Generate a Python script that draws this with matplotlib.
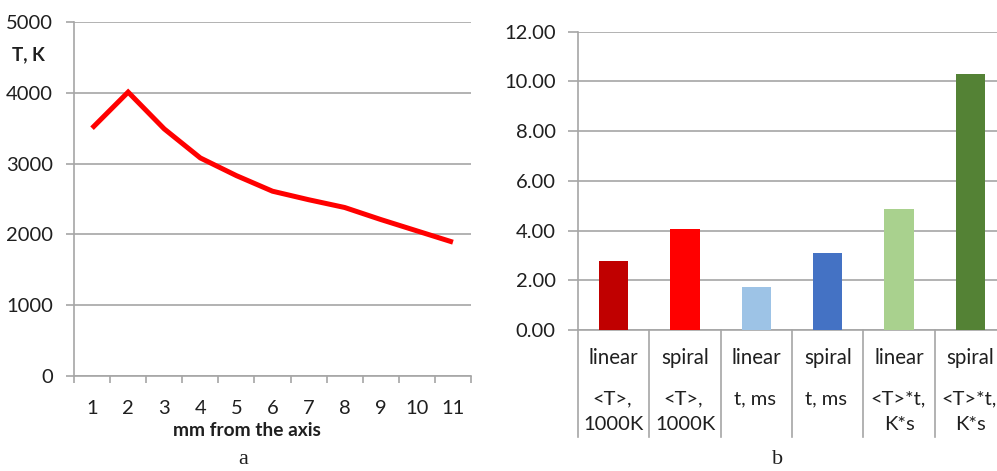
import matplotlib
matplotlib.use("Agg")
import matplotlib.pyplot as plt
import matplotlib.transforms as mtransforms

plt.rcParams['font.family'] = ['Lato', 'DejaVu Sans']

# Panel a: temperature profile versus distance from the axis
distance_mm = [1, 2, 3, 4, 5, 6, 7, 8, 9, 10, 11]
temperature_K = [3500, 4010, 3490, 3080, 2830, 2610, 2490, 2380, 2210, 2050, 1890]
temp_ticks = [0, 1000, 2000, 3000, 4000, 5000]

# Panel b: averaged quantities for the two configurations
bar_values = [2.78, 4.05, 1.74, 3.11, 4.85, 10.28]
bar_colors = ['#C00000', '#FF0000', '#9DC3E6', '#4472C4', '#A9D18E', '#548235']
config_labels = ['linear', 'spiral', 'linear', 'spiral', 'linear', 'spiral']
quantity_line1 = ['<T>,', '<T>,', 't, ms', 't, ms', '<T>*t,', '<T>*t,']
quantity_line2 = ['1000K', '1000K', '', '', 'K*s', 'K*s']
bar_ticks = [0, 2, 4, 6, 8, 10, 12]

W, H = 997, 471
fig = plt.figure(figsize=(W / 100, H / 100), dpi=100)
grid_c = '#A6A6A6'
axis_c = '#A6A6A6'
txt_c = '#1f1f1f'
FS = 14.5


def px_axes(x0, x1, ytop, ybot):
    return fig.add_axes([x0 / W, (H - ybot) / H, (x1 - x0) / W, (ybot - ytop) / H])


# ---------- panel a ----------
ax1 = px_axes(74, 471, 22, 376)
ax1.plot(distance_mm, temperature_K, color='#FF0000', lw=3.6,
         solid_joinstyle='miter', solid_capstyle='butt', zorder=3)
ax1.set_xlim(0.5, 11.5)
ax1.set_ylim(0, 5000)
ax1.set_yticks(temp_ticks)
ax1.set_yticklabels([str(v) for v in temp_ticks])
ax1.set_xticks(distance_mm)
ax1.set_xticks([v + 0.5 for v in [0] + distance_mm], minor=True)
ax1.tick_params(axis='x', which='major', length=0, pad=17, labelsize=FS, labelcolor=txt_c)
ax1.tick_params(axis='x', which='minor', length=5, width=1.2, color=axis_c, direction='out')
ax1.tick_params(axis='y', length=6, width=1.2, color=axis_c, pad=9, labelsize=FS, labelcolor=txt_c)
ax1.grid(axis='y', color=grid_c, lw=1.2)
ax1.set_axisbelow(True)
for s in ['top', 'right']:
    ax1.spines[s].set_visible(False)
for s in ['left', 'bottom']:
    ax1.spines[s].set_color(axis_c)
    ax1.spines[s].set_linewidth(1.2)

fig.text(12 / W, 1 - 55 / H, 'T, K', fontsize=13.5, fontweight='bold', color=txt_c,
         ha='left', va='center')
fig.text(247 / W, 1 - 431 / H, 'mm from the axis', fontsize=13.8, fontweight='bold',
         color=txt_c, ha='center', va='center')
fig.text(243 / W, 1 - 459 / H, 'a', fontsize=16, family='Liberation Serif',
         color=txt_c, ha='center', va='center')

# ---------- panel b ----------
ax2 = px_axes(578, 1006, 31.7, 330)
xpos = list(range(len(bar_values)))
ax2.bar(xpos, bar_values, width=0.41, color=bar_colors, zorder=3)
ax2.set_xlim(-0.5, len(bar_values) - 0.5)
ax2.set_ylim(0, 12)
ax2.set_yticks(bar_ticks)
ax2.set_yticklabels([f'{v:.2f}' for v in bar_ticks])
ax2.set_xticks([])
ax2.tick_params(axis='y', length=7, width=1.2, color=axis_c, pad=9, labelsize=FS, labelcolor=txt_c)
ax2.grid(axis='y', color=grid_c, lw=1.2)
ax2.set_axisbelow(True)
for s in ['top', 'right', 'left']:
    ax2.spines[s].set_visible(False)
ax2.spines['bottom'].set_color(axis_c)
ax2.spines['bottom'].set_linewidth(1.2)

ax_h = 330 - 31.7
trans = mtransforms.blended_transform_factory(ax2.transData, ax2.transAxes)


def below(px):
    return -px / ax_h


# category separators and left axis line, extended down through the label rows
for b in range(len(bar_values) + 1):
    ax2.plot([b - 0.5, b - 0.5], [1 if b == 0 else 0, below(106.7)], transform=trans,
             color=axis_c, lw=1.2, clip_on=False, zorder=2)

for i in xpos:
    ax2.text(i, below(27.7), config_labels[i], transform=trans, ha='center', va='center',
             fontsize=FS + 0.3, color=txt_c)
    ax2.text(i - 0.02, below(69), quantity_line1[i], transform=trans, ha='center', va='center',
             fontsize=FS, color=txt_c)
    if quantity_line2[i]:
        ax2.text(i, below(94), quantity_line2[i], transform=trans, ha='center', va='center',
                 fontsize=FS, color=txt_c)

fig.text(778 / W, 1 - 459 / H, 'b', fontsize=16, family='Liberation Serif',
         color=txt_c, ha='center', va='center')

fig.savefig('out.png', dpi=100)
